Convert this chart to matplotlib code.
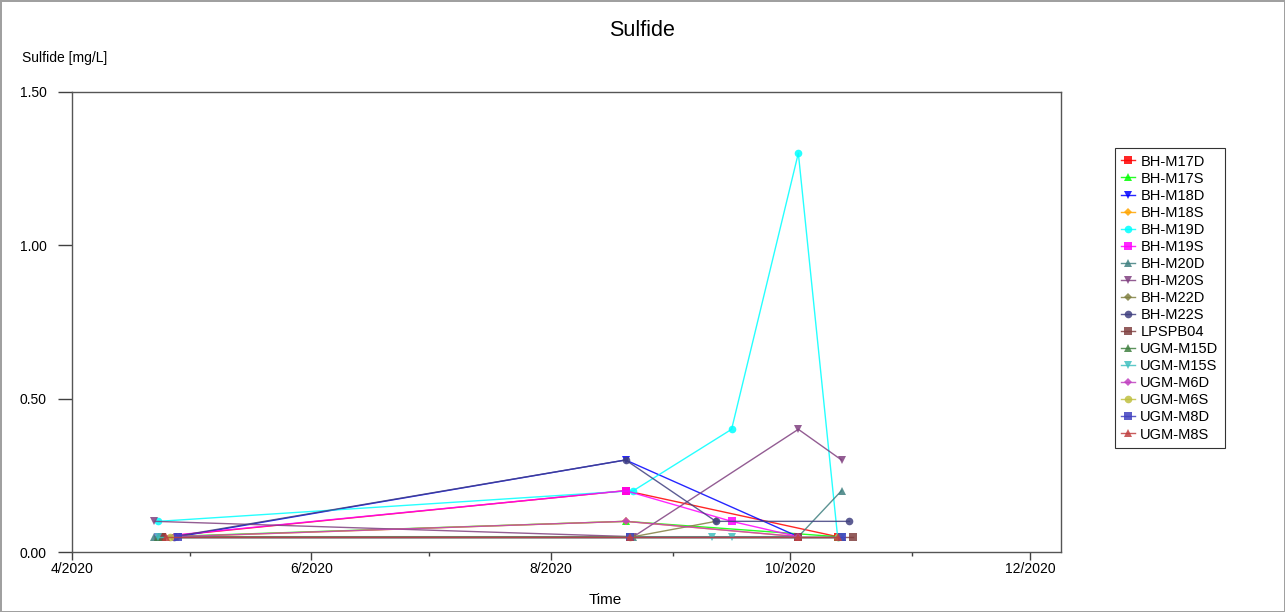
import datetime as dt
import matplotlib
matplotlib.use("Agg")
import matplotlib.pyplot as plt
import matplotlib.dates as mdates
from matplotlib.ticker import FuncFormatter

plt.rcParams['font.family'] = ['Liberation Sans', 'DejaVu Sans']

def d(m, day):
    return dt.datetime(2020, m, day)

# sample dates / sulfide values (mg/L) per well
names = ['BH-M17D', 'BH-M17S', 'BH-M18D', 'BH-M18S', 'BH-M19D', 'BH-M19S',
         'BH-M20D', 'BH-M20S', 'BH-M22D', 'BH-M22S', 'LPSPB04', 'UGM-M15D',
         'UGM-M15S', 'UGM-M6D', 'UGM-M6S', 'UGM-M8D', 'UGM-M8S']

dates = {
    'BH-M17D':  [d(4, 24), d(8, 20), d(10, 13)],
    'BH-M17S':  [d(4, 24), d(8, 20), d(10, 13)],
    'BH-M18D':  [d(4, 28), d(8, 20), d(10, 3)],
    'BH-M18S':  [d(4, 28), d(8, 20), d(10, 3)],
    'BH-M19D':  [d(4, 23), d(8, 22), d(9, 16), d(10, 3), d(10, 13)],
    'BH-M19S':  [d(4, 23), d(8, 20), d(9, 16), d(10, 3)],
    'BH-M20D':  [d(4, 22), d(8, 22), d(10, 3), d(10, 14)],
    'BH-M20S':  [d(4, 22), d(8, 22), d(10, 3), d(10, 14)],
    'BH-M22D':  [d(4, 27), d(8, 22), d(9, 12)],
    'BH-M22S':  [d(4, 27), d(8, 20), d(9, 12), d(10, 16)],
    'LPSPB04':  [d(4, 24), d(8, 21), d(10, 3), d(10, 17)],
    'UGM-M15D': [d(4, 23), d(8, 21), d(10, 14)],
    'UGM-M15S': [d(4, 23), d(8, 21), d(9, 11), d(9, 16), d(10, 14)],
    'UGM-M6D':  [d(4, 27), d(8, 20), d(10, 3)],
    'UGM-M6S':  [d(4, 26), d(8, 21), d(10, 13)],
    'UGM-M8D':  [d(4, 28), d(8, 21), d(10, 14)],
    'UGM-M8S':  [d(4, 25), d(8, 21), d(10, 3), d(10, 13)],
}

values = {
    'BH-M17D':  [0.05, 0.20, 0.05],
    'BH-M17S':  [0.05, 0.10, 0.05],
    'BH-M18D':  [0.05, 0.30, 0.05],
    'BH-M18S':  [0.05, 0.10, 0.05],
    'BH-M19D':  [0.10, 0.20, 0.40, 1.30, 0.05],
    'BH-M19S':  [0.05, 0.20, 0.10, 0.05],
    'BH-M20D':  [0.05, 0.05, 0.05, 0.20],
    'BH-M20S':  [0.10, 0.05, 0.40, 0.30],
    'BH-M22D':  [0.05, 0.05, 0.10],
    'BH-M22S':  [0.05, 0.30, 0.10, 0.10],
    'LPSPB04':  [0.05, 0.05, 0.05, 0.05],
    'UGM-M15D': [0.05, 0.05, 0.05],
    'UGM-M15S': [0.05, 0.05, 0.05, 0.05, 0.05],
    'UGM-M6D':  [0.05, 0.10, 0.05],
    'UGM-M6S':  [0.05, 0.05, 0.05],
    'UGM-M8D':  [0.05, 0.05, 0.05],
    'UGM-M8S':  [0.05, 0.05, 0.05, 0.05],
}

colors = ['#ff0000', '#00ff00', '#0000ff', '#ffa500', '#00ffff', '#ff00ff',
          '#408080', '#804080', '#808040', '#404080', '#804040', '#408040',
          '#40c0c0', '#c040c0', '#c0c040', '#4040c0', '#c04040']
markers = ['s', '^', 'v', 'D', 'o', 's', '^', 'v', 'D', 'o', 's', '^',
           'v', 'D', 'o', 's', '^']

fig = plt.figure(figsize=(12.85, 6.12), dpi=100)
fig.patch.set_edgecolor('#a0a0a0')
fig.patch.set_linewidth(2)
ax = fig.add_axes([0.056, 0.098, 0.77, 0.752])

for n, c, m in zip(names, colors, markers):
    ms = 4.5 if m == 'D' else 5.5
    ax.plot(dates[n], values[n], color=c, marker=m, ms=ms, lw=1, alpha=0.85,
            markeredgewidth=0, label=n)

ax.set_xlim(d(4, 1), d(12, 9))
ax.set_ylim(0, 1.5)
ax.set_yticks([0, 0.5, 1.0, 1.5])
ax.yaxis.set_major_formatter(FuncFormatter(lambda v, p: '%.2f' % v))
ax.xaxis.set_major_locator(mdates.MonthLocator(bymonth=[4, 6, 8, 10, 12]))
ax.xaxis.set_minor_locator(mdates.MonthLocator(bymonth=[5, 7, 9, 11]))
ax.xaxis.set_major_formatter(FuncFormatter(
    lambda v, p: '%d/%d' % (mdates.num2date(v).month, mdates.num2date(v).year)))

ax.tick_params(axis='y', which='major', length=10, width=1, color='#404040',
               labelsize=10, pad=8)
ax.tick_params(axis='x', which='major', length=6, width=1, color='#404040',
               labelsize=10, pad=1)
ax.tick_params(axis='x', which='minor', length=3, width=1, color='#404040')
for s in ax.spines.values():
    s.set_color('#555555')
    s.set_linewidth(1)

fig.text(0.5, 0.95, 'Sulfide', ha='center', va='center', fontsize=15.5)
fig.text(0.017, 0.905, 'Sulfide [mg/L]', ha='left', va='center', fontsize=10)
fig.text(0.471, 0.02, 'Time', ha='center', va='center', fontsize=11)

leg = ax.legend(loc='upper left', bbox_to_anchor=(1.054, 0.878), fontsize=10.5,
                frameon=True, fancybox=False, edgecolor='black',
                handlelength=0.9, handletextpad=0.4, labelspacing=0.21,
                borderpad=0.45, borderaxespad=0)
leg.get_frame().set_linewidth(0.8)

fig.savefig('out.png', dpi=100)
